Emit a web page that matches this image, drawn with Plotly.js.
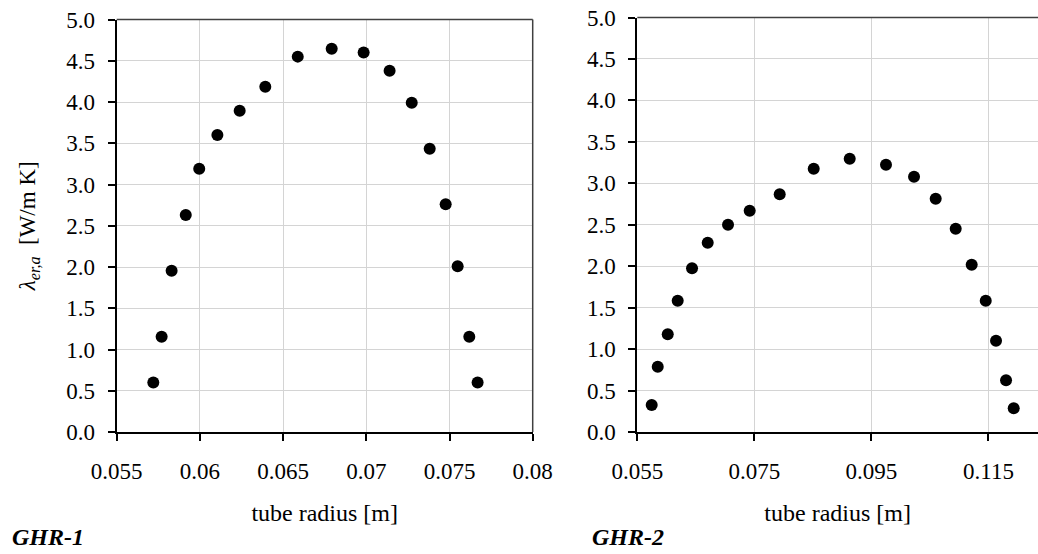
<!DOCTYPE html>
<html>
<head>
<meta charset="utf-8">
<script src="https://cdn.plot.ly/plotly-3.0.1.min.js"></script>
<style>html,body{margin:0;padding:0;background:#fff;font-family:'Liberation Serif', serif;}#chart{width:1038px;height:554px;}</style>
</head>
<body>
<div id="chart"></div>
<script>
// GHR-1 data
const ghr1Radius = [0.0572, 0.0577, 0.0583, 0.05915, 0.05996, 0.06105, 0.06239, 0.06393, 0.06588,
  0.06792, 0.06984, 0.0714, 0.07273, 0.07381, 0.07477, 0.07549, 0.07619, 0.07669];
const ghr1Lambda = [0.60, 1.155, 1.955, 2.63, 3.19, 3.60, 3.895, 4.186, 4.55,
  4.646, 4.60, 4.38, 3.99, 3.434, 2.76, 2.008, 1.155, 0.60];
// GHR-2 data
const ghr2Radius = [0.05746, 0.05849, 0.0602, 0.0619, 0.06435, 0.06703, 0.0705, 0.0742, 0.07933,
  0.08514, 0.09129, 0.09749, 0.10228, 0.10598, 0.1094, 0.11213, 0.11453, 0.11629, 0.1180, 0.11931];
const ghr2Lambda = [0.326, 0.788, 1.178, 1.584, 1.974, 2.284, 2.50, 2.67, 2.867,
  3.176, 3.297, 3.225, 3.08, 2.815, 2.453, 2.018, 1.584, 1.101, 0.623, 0.286];

// tick values / labels
const yTickVals = [0, 0.5, 1, 1.5, 2, 2.5, 3, 3.5, 4, 4.5, 5];
const yTickText = ["0.0", "0.5", "1.0", "1.5", "2.0", "2.5", "3.0", "3.5", "4.0", "4.5", "5.0"];
const x1TickVals = [0.055, 0.06, 0.065, 0.07, 0.075, 0.08];
const x1TickText = ["0.055", "0.06", "0.065", "0.07", "0.075", "0.08"];
const x2TickVals = [0.055, 0.075, 0.095, 0.115];
const x2TickText = ["0.055", "0.075", "0.095", "0.115"];

const SERIF = 'Liberation Serif';

function draw() {
  const W = 1038, H = 554;
  const fx = px => px / W;
  const fy = py => 1 - py / H;
  const marker = {color: '#000000', size: 12, line: {width: 0}};
  const traces = [
    {x: ghr1Radius, y: ghr1Lambda, mode: 'markers', type: 'scatter', marker: marker, xaxis: 'x', yaxis: 'y'},
    {x: ghr2Radius, y: ghr2Lambda, mode: 'markers', type: 'scatter', marker: marker, xaxis: 'x2', yaxis: 'y2'}
  ];
  const tf = {family: SERIF, size: 23, color: '#000000'};
  const titleFont = {family: SERIF, size: 24, color: '#000000'};
  function xAxis(extra) {
    return Object.assign({
      showgrid: true, gridcolor: '#d4d4d4', gridwidth: 1,
      showline: true, linecolor: '#000000', linewidth: 2,
      ticks: 'outside', ticklen: 7, tickwidth: 1.5, tickcolor: '#000000',
      tickfont: tf, ticklabelstandoff: 10,
      zeroline: false, tickmode: 'array'
    }, extra);
  }
  function yAxis(extra) {
    return Object.assign({
      showgrid: true, gridcolor: '#d4d4d4', gridwidth: 1,
      showline: true, linecolor: '#000000', linewidth: 2,
      ticks: 'outside', ticklen: 7, tickwidth: 1.5, tickcolor: '#000000',
      tickfont: tf, ticklabelstandoff: 8,
      zeroline: false, tickmode: 'array', tickvals: yTickVals, ticktext: yTickText,
      range: [0, 5]
    }, extra);
  }
  const layout = {
    width: W, height: H,
    margin: {l: 0, r: 0, t: 0, b: 0},
    paper_bgcolor: '#ffffff', plot_bgcolor: '#ffffff',
    showlegend: false,
    font: {family: SERIF, color: '#000000', size: 23},
    xaxis: xAxis({
      domain: [fx(116.7), fx(532.7)], range: [0.055, 0.08],
      tickvals: x1TickVals, ticktext: x1TickText, anchor: 'y',
      title: {text: 'tube radius [m]', font: titleFont, standoff: 22}
    }),
    yaxis: yAxis({
      domain: [fy(432), fy(19.5)], anchor: 'x',
      title: {text: '<i>λ<sub>er,a</sub></i>  [W/m K]', font: {family: SERIF, size: 23, color: '#000000'}, standoff: 24}
    }),
    xaxis2: xAxis({
      domain: [fx(637.3), 1], range: [0.055, 0.055 + (W - 637.3) / 5853],
      tickvals: x2TickVals, ticktext: x2TickText, anchor: 'y2',
      title: {text: 'tube radius [m]', font: titleFont, standoff: 22}
    }),
    yaxis2: yAxis({domain: [fy(432), fy(17.5)], anchor: 'x2'}),
    shapes: [
      {type: 'line', xref: 'x domain', yref: 'y domain', x0: 0, x1: 1, y0: 1, y1: 1, line: {color: '#404040', width: 1.5}},
      {type: 'line', xref: 'x domain', yref: 'y domain', x0: 1, x1: 1, y0: 0, y1: 1, line: {color: '#404040', width: 1.5}},
      {type: 'line', xref: 'x2 domain', yref: 'y2 domain', x0: 0, x1: 1, y0: 1, y1: 1, line: {color: '#404040', width: 1.5}}
    ],
    annotations: [
      {text: '<b><i>GHR-1</i></b>', xref: 'paper', yref: 'paper', x: fx(10), y: fy(537), xanchor: 'left', yanchor: 'middle',
       showarrow: false, font: titleFont},
      {text: '<b><i>GHR-2</i></b>', xref: 'paper', yref: 'paper', x: fx(590), y: fy(537), xanchor: 'left', yanchor: 'middle',
       showarrow: false, font: titleFont}
    ]
  };
  Plotly.newPlot('chart', traces, layout, {displayModeBar: false});
}

if (document.fonts && document.fonts.load) {
  Promise.all([
    document.fonts.load('23px "Liberation Serif"'),
    document.fonts.load('italic 23px "Liberation Serif"'),
    document.fonts.load('italic bold 24px "Liberation Serif"')
  ]).then(draw, draw);
} else {
  draw();
}
</script>
</body>
</html>
